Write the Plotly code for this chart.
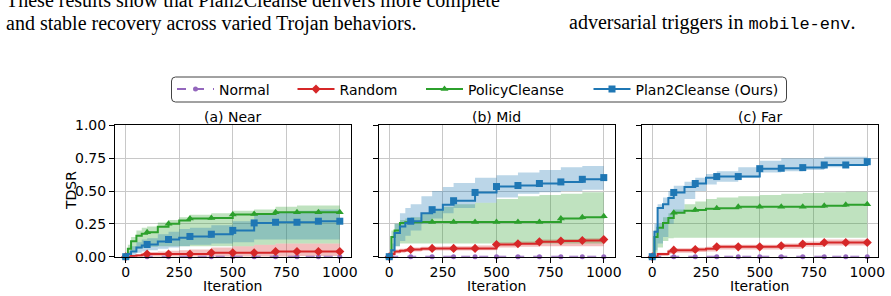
import plotly.graph_objects as go

# ---------------- data ----------------
ITERATIONS = [0, 10, 25, 50, 75, 100, 150, 200, 250, 300, 400, 500, 600, 700, 800, 900, 1000]
MARKER_ITERATIONS = [0, 100, 200, 300, 400, 500, 600, 700, 800, 900, 1000]
PANEL_TITLES = ["(a) Near", "(b) Mid", "(c) Far"]
METHODS = ["Normal", "Random", "PolicyCleanse", "Plan2Cleanse (Ours)"]
X_TICKS = [0, 250, 500, 750, 1000]
Y_TICKS = [0.0, 0.25, 0.5, 0.75, 1.0]
Y_TICK_LABELS = ["0.00", "0.25", "0.50", "0.75", "1.00"]

# (a) Near
near_normal = [0, 0, 0, 0, 0, 0, 0, 0, 0, 0, 0, 0, 0, 0, 0, 0, 0]
near_random = [0, 0, 0.005, 0.01, 0.015, 0.02, 0.02, 0.02, 0.02, 0.02, 0.03, 0.03, 0.03, 0.04, 0.04, 0.04, 0.04]
near_random_lo = [0, 0, 0, 0, 0, 0, 0, 0, 0, 0, 0, 0, 0, 0, 0.005, 0.005, 0.005]
near_random_hi = [0, 0.005, 0.01, 0.02, 0.03, 0.035, 0.04, 0.045, 0.05, 0.055, 0.07, 0.08, 0.09, 0.1, 0.1, 0.1, 0.105]
near_pc = [0, 0.06, 0.118, 0.16, 0.174, 0.186, 0.227, 0.25, 0.275, 0.29, 0.295, 0.322, 0.325, 0.338, 0.338, 0.338, 0.338]
near_pc_lo = [0, 0.02, 0.04, 0.06, 0.07, 0.075, 0.08, 0.08, 0.08, 0.08, 0.08, 0.08, 0.09, 0.1, 0.1, 0.1, 0.1]
near_pc_hi = [0, 0.09, 0.15, 0.2, 0.22, 0.23, 0.26, 0.28, 0.3, 0.32, 0.33, 0.35, 0.36, 0.38, 0.39, 0.39, 0.395]
near_p2c = [0, 0.02, 0.04, 0.07, 0.085, 0.093, 0.115, 0.131, 0.145, 0.154, 0.171, 0.2, 0.257, 0.262, 0.262, 0.27, 0.27]
near_p2c_lo = [0, 0, 0.01, 0.03, 0.04, 0.05, 0.06, 0.07, 0.08, 0.09, 0.1, 0.11, 0.13, 0.13, 0.13, 0.13, 0.13]
near_p2c_hi = [0, 0.04, 0.08, 0.11, 0.13, 0.14, 0.17, 0.19, 0.21, 0.22, 0.24, 0.27, 0.33, 0.34, 0.35, 0.36, 0.36]

# (b) Mid
mid_normal = [0, 0, 0, 0, 0, 0, 0, 0, 0, 0, 0, 0, 0, 0, 0, 0, 0]
mid_random = [0, 0.02, 0.04, 0.045, 0.05, 0.055, 0.06, 0.063, 0.063, 0.063, 0.063, 0.093, 0.098, 0.113, 0.12, 0.123, 0.13]
mid_random_lo = [0, 0.005, 0.025, 0.03, 0.035, 0.04, 0.045, 0.048, 0.048, 0.048, 0.05, 0.07, 0.075, 0.08, 0.08, 0.08, 0.08]
mid_random_hi = [0, 0.03, 0.055, 0.06, 0.065, 0.07, 0.075, 0.078, 0.08, 0.08, 0.085, 0.11, 0.115, 0.13, 0.135, 0.14, 0.145]
mid_pc = [0, 0.15, 0.2, 0.257, 0.262, 0.262, 0.265, 0.265, 0.265, 0.265, 0.265, 0.265, 0.265, 0.265, 0.29, 0.3, 0.307]
mid_pc_lo = [0, 0.05, 0.08, 0.1, 0.1, 0.1, 0.1, 0.1, 0.1, 0.1, 0.1, 0.1, 0.1, 0.1, 0.1, 0.1, 0.1]
mid_pc_hi = [0, 0.2, 0.25, 0.28, 0.29, 0.3, 0.33, 0.36, 0.38, 0.4, 0.41, 0.44, 0.46, 0.47, 0.48, 0.49, 0.5]
mid_p2c = [0, 0.05, 0.18, 0.23, 0.257, 0.27, 0.33, 0.358, 0.395, 0.426, 0.489, 0.534, 0.542, 0.557, 0.569, 0.589, 0.602]
mid_p2c_lo = [0, 0.02, 0.08, 0.12, 0.16, 0.2, 0.25, 0.29, 0.33, 0.37, 0.41, 0.45, 0.48, 0.49, 0.5, 0.51, 0.52]
mid_p2c_hi = [0, 0.1, 0.25, 0.33, 0.37, 0.4, 0.46, 0.5, 0.53, 0.56, 0.6, 0.62, 0.64, 0.66, 0.68, 0.69, 0.69]

# (c) Far
far_normal = [0, 0, 0, 0, 0, 0, 0, 0, 0, 0, 0, 0, 0, 0, 0, 0, 0]
far_random = [0, 0, 0.02, 0.02, 0.04, 0.05, 0.05, 0.055, 0.06, 0.075, 0.075, 0.075, 0.083, 0.096, 0.108, 0.108, 0.108]
far_random_lo = [0, 0, 0.005, 0.005, 0.02, 0.03, 0.03, 0.035, 0.04, 0.055, 0.055, 0.055, 0.06, 0.075, 0.085, 0.085, 0.085]
far_random_hi = [0, 0, 0.03, 0.03, 0.055, 0.065, 0.065, 0.07, 0.075, 0.09, 0.09, 0.09, 0.1, 0.115, 0.13, 0.13, 0.13]
far_pc = [0, 0.15, 0.22, 0.257, 0.295, 0.335, 0.35, 0.355, 0.365, 0.368, 0.38, 0.38, 0.38, 0.38, 0.388, 0.395, 0.4]
far_pc_lo = [0, 0.03, 0.07, 0.12, 0.14, 0.144, 0.144, 0.144, 0.144, 0.144, 0.144, 0.144, 0.144, 0.144, 0.144, 0.144, 0.144]
far_pc_hi = [0, 0.2, 0.25, 0.3, 0.33, 0.36, 0.4, 0.42, 0.44, 0.45, 0.46, 0.47, 0.48, 0.485, 0.49, 0.495, 0.5]
far_p2c = [0, 0.19, 0.37, 0.4, 0.446, 0.489, 0.53, 0.557, 0.6, 0.61, 0.61, 0.67, 0.673, 0.678, 0.698, 0.698, 0.723]
far_p2c_lo = [0, 0.05, 0.1, 0.15, 0.25, 0.33, 0.44, 0.5, 0.55, 0.57, 0.6, 0.64, 0.65, 0.66, 0.68, 0.69, 0.7]
far_p2c_hi = [0, 0.25, 0.4, 0.45, 0.5, 0.54, 0.57, 0.6, 0.63, 0.65, 0.68, 0.73, 0.75, 0.75, 0.76, 0.76, 0.76]

PANELS = [
    {"Normal": (near_normal, None, None), "Random": (near_random, near_random_lo, near_random_hi),
     "PolicyCleanse": (near_pc, near_pc_lo, near_pc_hi), "Plan2Cleanse (Ours)": (near_p2c, near_p2c_lo, near_p2c_hi)},
    {"Normal": (mid_normal, None, None), "Random": (mid_random, mid_random_lo, mid_random_hi),
     "PolicyCleanse": (mid_pc, mid_pc_lo, mid_pc_hi), "Plan2Cleanse (Ours)": (mid_p2c, mid_p2c_lo, mid_p2c_hi)},
    {"Normal": (far_normal, None, None), "Random": (far_random, far_random_lo, far_random_hi),
     "PolicyCleanse": (far_pc, far_pc_lo, far_pc_hi), "Plan2Cleanse (Ours)": (far_p2c, far_p2c_lo, far_p2c_hi)},
]

# ---------------- style ----------------
W, H = 891, 296
COLORS = {"Normal": "#9467bd", "Random": "#d62728", "PolicyCleanse": "#2ca02c", "Plan2Cleanse (Ours)": "#1f77b4"}
BANDS = {"Random": "rgba(214,39,40,0.3)", "PolicyCleanse": "rgba(44,160,44,0.3)", "Plan2Cleanse (Ours)": "rgba(31,119,180,0.3)"}
SYMBOLS = {"Normal": "circle", "Random": "diamond", "PolicyCleanse": "triangle-up", "Plan2Cleanse (Ours)": "square"}
MSIZE = {"Normal": 5, "Random": 7, "PolicyCleanse": 7, "Plan2Cleanse (Ours)": 7}
DASH = {"Normal": "dash", "Random": "solid", "PolicyCleanse": "solid", "Plan2Cleanse (Ours)": "solid"}
FONT = "DejaVu Sans"
FS = 14

PANEL_PX = [(115, 350.5), (378.5, 614.5), (641.5, 878)]
Y_PX = (125.3, 256.7)
LEGEND_TEXT_X = [219, 339.5, 468, 635.5]

def px_x(p):
    return p / W

def px_y(p):
    return 1 - p / H

fig = go.Figure()
marker_idx = [ITERATIONS.index(v) for v in MARKER_ITERATIONS]

for p, panel in enumerate(PANELS):
    xa = "x" if p == 0 else f"x{p + 1}"
    ya = "y" if p == 0 else f"y{p + 1}"
    for m in METHODS:
        mean, lo, hi = panel[m]
        if lo is None:
            continue
        fig.add_trace(go.Scatter(x=ITERATIONS, y=lo, mode="lines", line=dict(width=0, shape="hv"),
                                 xaxis=xa, yaxis=ya, showlegend=False, hoverinfo="skip"))
        fig.add_trace(go.Scatter(x=ITERATIONS, y=hi, mode="lines", line=dict(width=0, shape="hv"),
                                 fill="tonexty", fillcolor=BANDS[m],
                                 xaxis=xa, yaxis=ya, showlegend=False, hoverinfo="skip"))
    for m in METHODS:
        mean, lo, hi = panel[m]
        fig.add_trace(go.Scatter(x=ITERATIONS, y=mean, mode="lines",
                                 line=dict(color=COLORS[m], width=2, shape="hv", dash=DASH[m]),
                                 xaxis=xa, yaxis=ya, showlegend=False, name=m))
        fig.add_trace(go.Scatter(x=MARKER_ITERATIONS, y=[mean[i] for i in marker_idx], mode="markers",
                                 marker=dict(color=COLORS[m], symbol=SYMBOLS[m], size=MSIZE[m]),
                                 xaxis=xa, yaxis=ya, showlegend=False, name=m, cliponaxis=False))

# legend-only entries
legend_names = ["legend", "legend2", "legend3", "legend4"]
for m, lg in zip(METHODS, legend_names):
    fig.add_trace(go.Scatter(x=[None], y=[None], mode="lines+markers", name=m,
                             line=dict(color=COLORS[m], width=2, dash=DASH[m]),
                             marker=dict(color=COLORS[m], symbol=SYMBOLS[m], size=MSIZE[m]),
                             legend=lg, showlegend=True))

layout = dict(
    width=W, height=H, autosize=False,
    margin=dict(l=0, r=0, t=0, b=0, pad=0, autoexpand=False),
    paper_bgcolor="white", plot_bgcolor="white",
    font=dict(family=FONT, size=FS, color="black"),
    annotations=[], shapes=[],
)

for p in range(3):
    sx = "" if p == 0 else str(p + 1)
    layout["xaxis" + sx] = dict(
        domain=[px_x(PANEL_PX[p][0]), px_x(PANEL_PX[p][1])], range=[-50, 1050],
        tickvals=X_TICKS, ticks="outside", ticklen=5, tickwidth=1, tickcolor="black",
        ticklabelstandoff=-3,
        showline=True, linecolor="black", linewidth=1, mirror=True, automargin=False,
        showgrid=True, gridcolor="#c8c8c8", gridwidth=1, zeroline=False,
        anchor="y" + sx, tickfont=dict(family=FONT, size=FS, color="black"),
    )
    layout["yaxis" + sx] = dict(
        domain=[px_y(Y_PX[1]), px_y(Y_PX[0])], range=[0, 1],
        tickvals=Y_TICKS, ticktext=Y_TICK_LABELS, showticklabels=(p == 0),
        ticks="outside", ticklen=5, tickwidth=1, tickcolor="black",
        showline=True, linecolor="black", linewidth=1, mirror=True, automargin=False,
        showgrid=True, gridcolor="#c8c8c8", gridwidth=1, zeroline=False,
        anchor="x" + sx, tickfont=dict(family=FONT, size=FS, color="black"),
    )
    cx = (PANEL_PX[p][0] + PANEL_PX[p][1]) / 2
    layout["annotations"].append(dict(text=PANEL_TITLES[p], x=px_x(cx), y=px_y(117.5), xref="paper", yref="paper",
                                      xanchor="center", yanchor="middle", showarrow=False,
                                      font=dict(family=FONT, size=FS, color="black")))
    layout["annotations"].append(dict(text="Iteration", x=px_x(cx), y=px_y(285.5), xref="paper", yref="paper",
                                      xanchor="center", yanchor="middle", showarrow=False,
                                      font=dict(family=FONT, size=FS, color="black")))

layout["annotations"].append(dict(text="TDSR", x=px_x(71), y=px_y((Y_PX[0] + Y_PX[1]) / 2), xref="paper", yref="paper",
                                  xanchor="center", yanchor="middle", textangle=-90, showarrow=False,
                                  font=dict(family=FONT, size=FS, color="black")))

# surrounding paper text
SERIF = "Liberation Serif"
layout["annotations"].append(dict(text="These results show that Plan2Cleanse delivers more complete",
                                  x=px_x(4), y=px_y(0.5), xref="paper", yref="paper", xanchor="left", yanchor="middle",
                                  showarrow=False, font=dict(family=SERIF, size=20, color="black")))
layout["annotations"].append(dict(text="and stable recovery across varied Trojan behaviors.",
                                  x=px_x(4), y=px_y(23.5), xref="paper", yref="paper", xanchor="left", yanchor="middle",
                                  showarrow=False, font=dict(family=SERIF, size=20, color="black")))
layout["annotations"].append(dict(text="adversarial triggers in <span style='font-family:Liberation Mono;font-size:17px'>mobile-env</span>.",
                                  x=px_x(567), y=px_y(22), xref="paper", yref="paper", xanchor="left", yanchor="middle",
                                  showarrow=False, font=dict(family=SERIF, size=20, color="black")))

# legend box (rounded rectangle)
bx0, bx1 = px_x(171.5), px_x(786.5)
by0, by1 = px_y(102), px_y(77)
rx, ry = 4 / W, 4 / H
path = (f"M{bx0 + rx},{by0} L{bx1 - rx},{by0} Q{bx1},{by0} {bx1},{by0 + ry} L{bx1},{by1 - ry} "
        f"Q{bx1},{by1} {bx1 - rx},{by1} L{bx0 + rx},{by1} Q{bx0},{by1} {bx0},{by1 - ry} "
        f"L{bx0},{by0 + ry} Q{bx0},{by0} {bx0 + rx},{by0} Z")
layout["shapes"].append(dict(type="path", path=path, xref="paper", yref="paper",
                             line=dict(color="#444444", width=1), fillcolor="rgba(255,255,255,0.8)", layer="above"))

for lg, tx in zip(legend_names, LEGEND_TEXT_X):
    layout[lg] = dict(x=px_x(tx - 47), y=px_y(89.5), xanchor="left", yanchor="middle", orientation="h",
                      bgcolor="rgba(0,0,0,0)", borderwidth=0, itemwidth=37,
                      font=dict(family=FONT, size=FS, color="black"))

fig.update_layout(**layout)
fig.write_html("out.html", config={"responsive": False})
